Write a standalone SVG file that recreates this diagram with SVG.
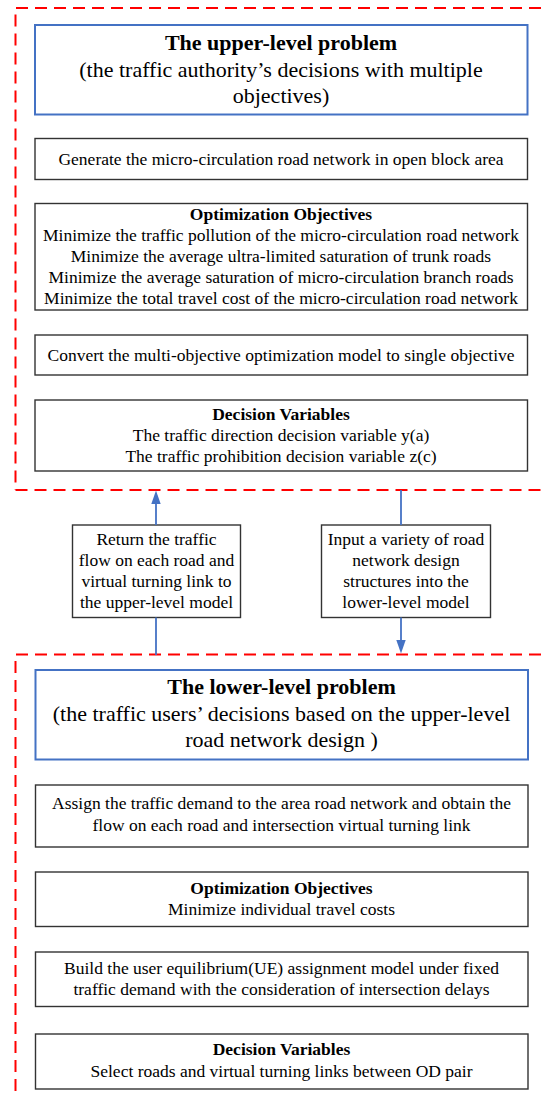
<svg xmlns="http://www.w3.org/2000/svg" width="542" height="1098" viewBox="0 0 542 1098">
<style>
.bg{fill:#ffffff}
.frame{fill:none;stroke:#ff0000;stroke-width:2;stroke-dasharray:12 7}
.box{fill:#ffffff;stroke:#333333;stroke-width:1.4}
.tbox{fill:#ffffff;stroke:#4472c4;stroke-width:2}
.t{font-family:"Liberation Serif","Times New Roman",serif;font-size:17.5px;fill:#000;text-anchor:middle}
.b{font-weight:bold}
.tt{font-family:"Liberation Serif","Times New Roman",serif;font-size:22px;fill:#000;text-anchor:middle}
.conn{stroke:#4472c4;stroke-width:1.8;fill:none}
.head{fill:#4472c4}
</style>
<rect class="bg" x="0" y="0" width="542" height="1098"/>
<g id="frames">
<path class="frame" d="M560 8 H15.5 V490"/>
<path class="frame" d="M15.5 490 H560"/>
<path class="frame" d="M560 654.5 H15.5 V1110"/>
</g>
<g id="upper-title">
<rect class="tbox" x="35" y="25" width="492.5" height="89.5"/>
<text class="tt b" x="281" y="50">The upper-level problem</text>
<text class="tt" x="281" y="76.5">(the traffic authority’s decisions with multiple</text>
<text class="tt" x="281" y="103">objectives)</text>
</g>
<g id="upper-generate">
<rect class="box" x="35" y="138.5" width="492.5" height="41"/>
<text class="t" x="281" y="164.5">Generate the micro-circulation road network in open block area</text>
</g>
<g id="upper-objectives">
<rect class="box" x="35" y="203.5" width="492.5" height="106.5"/>
<text class="t b" x="281" y="219.5">Optimization Objectives</text>
<text class="t" x="281" y="240.5">Minimize the traffic pollution of the micro-circulation road network</text>
<text class="t" x="281" y="261.5">Minimize the average ultra-limited saturation of trunk roads</text>
<text class="t" x="281" y="282.5">Minimize the average saturation of micro-circulation branch roads</text>
<text class="t" x="281" y="303.5">Minimize the total travel cost of the micro-circulation road network</text>
</g>
<g id="upper-convert">
<rect class="box" x="35" y="335" width="492.5" height="40"/>
<text class="t" x="281" y="360.5">Convert the multi-objective optimization model to single objective</text>
</g>
<g id="upper-variables">
<rect class="box" x="35" y="400" width="492.5" height="71"/>
<text class="t b" x="281" y="419.5">Decision Variables</text>
<text class="t" x="281" y="441">The traffic direction decision variable y(a)</text>
<text class="t" x="281" y="462">The traffic prohibition decision variable z(c)</text>
</g>
<g id="return-box">
<rect class="box" x="72.5" y="525" width="168" height="92.5"/>
<text class="t" x="156.5" y="545">Return the traffic</text>
<text class="t" x="156.5" y="566">flow on each road and</text>
<text class="t" x="156.5" y="587">virtual turning link to</text>
<text class="t" x="156.5" y="608">the upper-level model</text>
</g>
<g id="input-box">
<rect class="box" x="321.5" y="525" width="169" height="92.5"/>
<text class="t" x="406" y="545">Input a variety of road</text>
<text class="t" x="406" y="566">network design</text>
<text class="t" x="406" y="587">structures into the</text>
<text class="t" x="406" y="608">lower-level model</text>
</g>
<g id="lower-title">
<rect class="tbox" x="35.5" y="670" width="492.5" height="89.5"/>
<text class="tt b" x="281.5" y="694">The lower-level problem</text>
<text class="tt" x="281.5" y="720.5">(the traffic users’ decisions based on the upper-level</text>
<text class="tt" x="281.5" y="747">road network design )</text>
</g>
<g id="lower-assign">
<rect class="box" x="35.5" y="785" width="492.5" height="62"/>
<text class="t" x="281.5" y="809">Assign the traffic demand to the area road network and obtain the</text>
<text class="t" x="281.5" y="830.5">flow on each road and intersection virtual turning link</text>
</g>
<g id="lower-objectives">
<rect class="box" x="35.5" y="872" width="492.5" height="54.5"/>
<text class="t b" x="281.5" y="893.5">Optimization Objectives</text>
<text class="t" x="281.5" y="914.5">Minimize individual travel costs</text>
</g>
<g id="lower-ue">
<rect class="box" x="35.5" y="952" width="492.5" height="54.5"/>
<text class="t" x="281.5" y="973.5">Build the user equilibrium(UE) assignment model under fixed</text>
<text class="t" x="281.5" y="994.5">traffic demand with the consideration of intersection delays</text>
</g>
<g id="lower-variables">
<rect class="box" x="35.5" y="1034" width="492.5" height="55"/>
<text class="t b" x="281.5" y="1055">Decision Variables</text>
<text class="t" x="281.5" y="1076.5">Select roads and virtual turning links between OD pair</text>
</g>
<g id="connectors">
<line class="conn" x1="156" y1="655" x2="156" y2="617.5"/>
<line class="conn" x1="156" y1="525" x2="156" y2="503"/>
<polygon class="head" points="156,490.5 151.3,504 160.7,504"/>
<line class="conn" x1="401" y1="490" x2="401" y2="525"/>
<line class="conn" x1="401" y1="617.5" x2="401" y2="641"/>
<polygon class="head" points="401,653.5 396.3,640 405.7,640"/>
</g>
</svg>
